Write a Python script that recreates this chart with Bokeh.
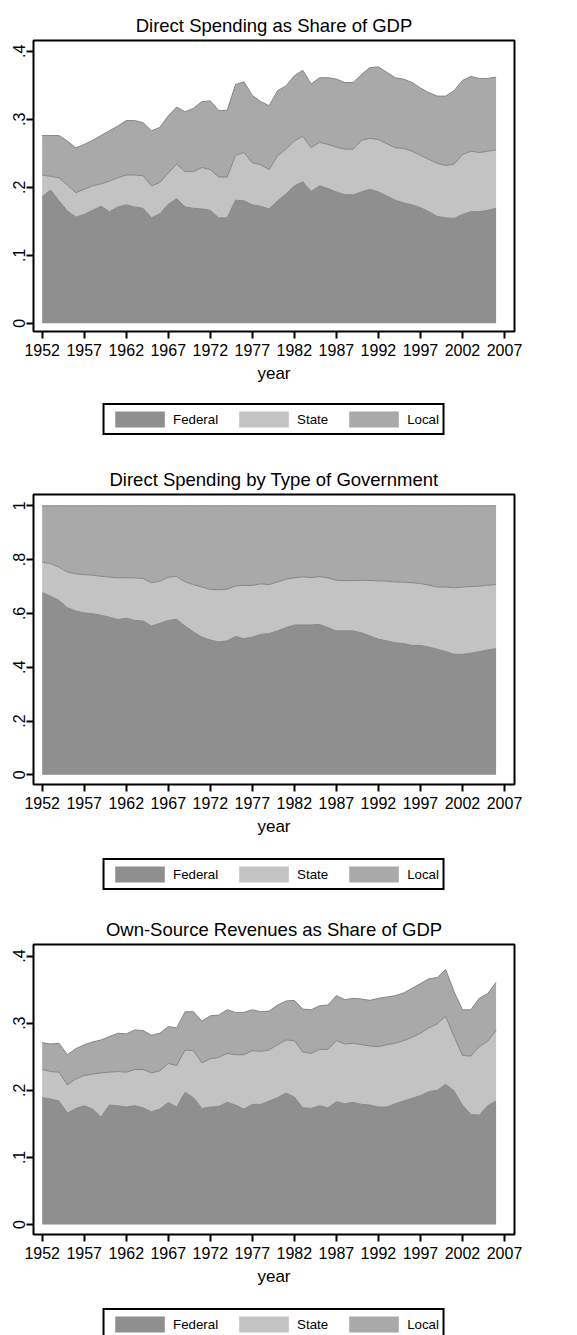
from bokeh.plotting import figure
from bokeh.models import (ColumnDataSource, Range1d, FixedTicker,
                          CustomJSTickFormatter, Legend, LegendItem)
from bokeh.layouts import column
from bokeh.embed import file_html
from bokeh.resources import INLINE

# ---------------- data ----------------
years = list(range(1952, 2007))
categories = ["Federal", "State", "Local"]

# Panel 1: direct spending as share of GDP (components)
spend_gdp_federal = [.186, .196, .180, .165, .156, .160, .166, .172, .164, .171,
                     .174, .171, .169, .155, .161, .175, .183, .171, .169, .168,
                     .166, .155, .155, .181, .180, .174, .172, .168, .180, .190,
                     .202, .208, .194, .202, .198, .193, .189, .189, .193, .197,
                     .193, .187, .181, .177, .174, .170, .164, .157, .155, .154,
                     .160, .164, .164, .166, .169]
spend_gdp_state = [.032, .020, .034, .038, .036, .037, .036, .033, .045, .043,
                   .044, .047, .048, .047, .046, .046, .051, .052, .054, .061,
                   .060, .060, .060, .066, .071, .062, .061, .058, .066, .066,
                   .066, .067, .064, .064, .065, .066, .067, .067, .076, .075,
                   .077, .077, .077, .080, .079, .077, .077, .078, .077, .080,
                   .088, .089, .087, .087, .086]
spend_gdp_local = [.058, .060, .062, .065, .066, .066, .067, .071, .074, .076,
                   .080, .080, .078, .081, .081, .084, .084, .088, .093, .097,
                   .101, .098, .098, .104, .104, .099, .093, .094, .096, .093,
                   .096, .097, .094, .095, .098, .100, .098, .098, .097, .104,
                   .107, .105, .103, .102, .101, .099, .098, .099, .102, .108,
                   .109, .110, .109, .107, .107]

# Panel 2: direct spending by type of government (shares)
spend_share_federal = [.677, .664, .648, .621, .609, .602, .599, .593, .586, .577,
                       .582, .574, .572, .553, .563, .574, .578, .553, .531, .512,
                       .501, .494, .498, .514, .506, .512, .522, .525, .535, .547,
                       .557, .557, .557, .559, .547, .535, .535, .535, .528, .516,
                       .504, .498, .491, .488, .481, .481, .475, .467, .458, .448,
                       .448, .452, .458, .464, .469]
spend_share_state = [.114, .121, .124, .133, .138, .142, .143, .145, .149, .155,
                     .151, .158, .158, .161, .157, .161, .159, .164, .176, .186,
                     .188, .194, .192, .188, .198, .192, .188, .182, .182, .180,
                     .175, .179, .176, .178, .185, .188, .187, .187, .195, .206,
                     .217, .222, .226, .228, .233, .230, .230, .231, .240, .247,
                     .250, .248, .243, .241, .238]
spend_share_local = [.209, .215, .228, .246, .253, .256, .258, .262, .265, .268,
                     .267, .268, .270, .286, .280, .265, .263, .283, .293, .302,
                     .311, .312, .310, .298, .296, .296, .290, .293, .283, .273,
                     .268, .264, .267, .263, .268, .277, .278, .278, .277, .278,
                     .279, .280, .283, .284, .286, .289, .295, .302, .302, .305,
                     .302, .300, .299, .295, .293]

# Panel 3: own-source revenues as share of GDP (components)
rev_gdp_federal = [.189, .187, .184, .166, .173, .177, .172, .160, .178, .177,
                   .175, .177, .174, .168, .172, .182, .175, .197, .189, .173,
                   .175, .176, .182, .178, .172, .179, .179, .184, .189, .196,
                   .190, .174, .173, .177, .174, .183, .180, .182, .179, .178,
                   .175, .175, .180, .184, .188, .192, .198, .200, .209, .199,
                   .178, .164, .163, .177, .184]
rev_gdp_state = [.042, .041, .043, .042, .044, .045, .052, .066, .049, .051,
                 .052, .054, .057, .058, .057, .058, .062, .063, .070, .068,
                 .072, .073, .073, .075, .081, .080, .079, .076, .079, .079,
                 .084, .083, .082, .084, .087, .091, .089, .088, .089, .088,
                 .090, .093, .090, .090, .091, .093, .095, .099, .101, .081,
                 .074, .087, .102, .096, .105]
rev_gdp_local = [.040, .041, .043, .045, .045, .046, .048, .049, .053, .057,
                 .057, .059, .058, .056, .056, .055, .056, .057, .058, .062,
                 .064, .063, .065, .063, .063, .061, .059, .058, .059, .058,
                 .060, .064, .065, .065, .066, .067, .066, .067, .068, .068,
                 .072, .071, .071, .071, .073, .074, .073, .069, .070, .067,
                 .068, .069, .072, .071, .072]

x_ticks = [1952, 1957, 1962, 1967, 1972, 1977, 1982, 1987, 1992, 1997, 2002, 2007]
gdp_ticks = [0, 0.1, 0.2, 0.3, 0.4]
share_ticks = [0, 0.2, 0.4, 0.6, 0.8, 1.0]

# ---------------- style ----------------
FONT = "Liberation Sans"
FILLS = ["#8f8f8f", "#c3c3c3", "#a9a9a9"]
EDGE = "#868686"
W = 560
LEFT = 33
RIGHT = W - 514
STACK = ["federal", "state", "local"]

fmt_code = """
if (Math.abs(tick) < 1e-9) { return "0"; }
if (Math.abs(tick - Math.round(tick)) < 1e-9) { return String(Math.round(tick)); }
return tick.toFixed(1).replace(/^0/, "");
"""


def panel(title, src, y_lo, y_hi, y_ticks, height, top, bottom):
    p = figure(width=W, height=height,
               x_range=Range1d(1950.966, 2008.19), y_range=Range1d(y_lo, y_hi),
               output_backend="svg", toolbar_location=None,
               min_border_left=LEFT, min_border_right=RIGHT,
               min_border_top=top, min_border_bottom=bottom,
               background_fill_color="white", border_fill_color="white")
    p.varea_stack(STACK, x="year", source=src, fill_color=FILLS)
    p.vline_stack(STACK, x="year", source=src, line_color=EDGE, line_width=1)

    p.grid.visible = False
    p.outline_line_color = "black"
    p.outline_line_width = 2

    p.title.text = title
    p.title.align = "center"
    p.title.text_font = FONT
    p.title.text_font_size = "18.5px"
    p.title.text_font_style = "normal"
    p.title.text_color = "black"
    p.title.standoff = 10

    xa = p.xaxis[0]
    xa.ticker = FixedTicker(ticks=x_ticks)
    xa.axis_label = "year"
    ya = p.yaxis[0]
    ya.ticker = FixedTicker(ticks=y_ticks)
    ya.formatter = CustomJSTickFormatter(code=fmt_code)
    ya.major_label_orientation = "vertical"
    for ax in (xa, ya):
        ax.axis_line_color = None
        ax.major_tick_in = 0
        ax.major_tick_out = 7
        ax.major_tick_line_width = 2
        ax.major_tick_line_color = "black"
        ax.minor_tick_line_color = None
        ax.major_label_text_font = FONT
        ax.major_label_text_font_size = "16px"
        ax.major_label_text_color = "black"
    xa.major_label_standoff = 5
    ya.major_label_standoff = 1
    xa.axis_label_text_font = FONT
    xa.axis_label_text_font_size = "17px"
    xa.axis_label_text_font_style = "normal"
    xa.axis_label_text_color = "black"
    xa.axis_label_standoff = 5
    return p


def legend_strip(src, height, margin):
    # the stacked areas lie outside this strip's view; only their legend shows
    lf = figure(width=W, height=height, x_range=Range1d(0, 1), y_range=Range1d(50, 51),
                output_backend="svg", toolbar_location=None,
                x_axis_location=None, y_axis_location=None,
                min_border_left=LEFT, min_border_right=RIGHT,
                min_border_top=0, min_border_bottom=0,
                background_fill_color="white", border_fill_color="white")
    lf.grid.visible = False
    lf.outline_line_color = None
    swatches = lf.varea_stack(STACK, x="year", source=src, fill_color=FILLS)
    legend = Legend(items=[LegendItem(label=c, renderers=[r])
                           for c, r in zip(categories, swatches)],
                    orientation="horizontal", location="top_center",
                    border_line_color="black", border_line_width=2,
                    border_line_alpha=1,
                    background_fill_color="white", background_fill_alpha=1,
                    padding=4, spacing=14, margin=margin,
                    glyph_width=62, glyph_height=20, label_height=20,
                    label_standoff=3, label_text_font=FONT,
                    label_text_font_size="13.3px", label_text_color="black")
    lf.add_layout(legend, "center")
    return lf


src1 = ColumnDataSource(dict(year=years, federal=spend_gdp_federal,
                             state=spend_gdp_state, local=spend_gdp_local))
src2 = ColumnDataSource(dict(year=years, federal=spend_share_federal,
                             state=spend_share_state, local=spend_share_local))
src3 = ColumnDataSource(dict(year=years, federal=rev_gdp_federal,
                             state=rev_gdp_state, local=rev_gdp_local))

p1 = panel("Direct Spending as Share of GDP", src1,
           -0.0122, 0.4158, gdp_ticks, 398, 40, 67)
l1 = legend_strip(src1, 63, 5)
p2 = panel("Direct Spending by Type of Government", src2,
           -0.0359, 1.0419, share_ticks, 392, 32, 69)
l2 = legend_strip(src2, 58, 5)
p3 = panel("Own-Source Revenues as Share of GDP", src3,
           -0.0148, 0.4172, gdp_ticks, 392, 32, 69)
l3 = legend_strip(src3, 32, 5)

layout = column(p1, l1, p2, l2, p3, l3, spacing=0)
open("out.html", "w").write(file_html(layout, INLINE))
